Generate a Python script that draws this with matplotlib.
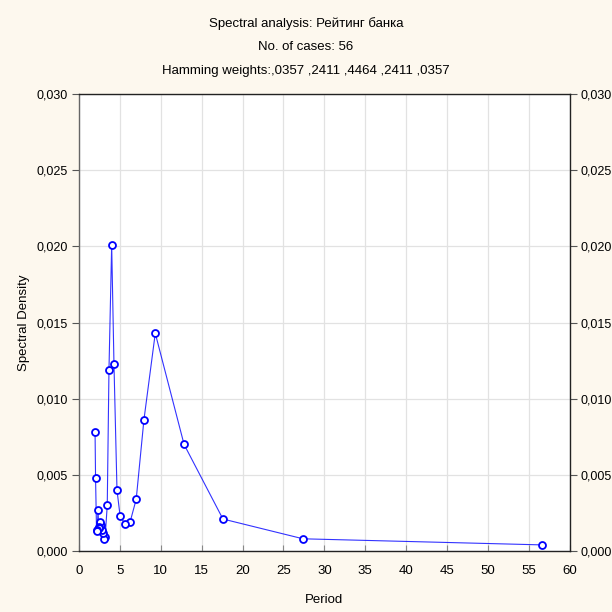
import matplotlib.pyplot as plt
from matplotlib.ticker import FuncFormatter, MultipleLocator

plt.rcParams['font.family'] = ['Liberation Sans', 'DejaVu Sans']

# Periodogram values (period, smoothed spectral density)
period = [56.6, 27.4, 17.6, 12.85, 9.33, 7.94, 7.0, 6.25, 5.6, 5.03,
          4.65, 4.28, 4.0, 3.67, 3.46, 3.2, 3.1, 2.95, 2.8, 2.7,
          2.6, 2.5, 2.42, 2.33, 2.24, 2.15, 2.03, 1.97]
density = [0.0004, 0.0008, 0.0021, 0.0070, 0.0143, 0.0086, 0.0034, 0.0019, 0.0018, 0.0023,
           0.0040, 0.0123, 0.0201, 0.0119, 0.0030, 0.0009, 0.0008, 0.0012, 0.0014, 0.0017,
           0.0019, 0.0016, 0.0015, 0.0027, 0.0014, 0.0013, 0.0048, 0.0078]

title_lines = ["Spectral analysis: Рейтинг банка",
               "No. of cases: 56",
               "Hamming weights:,0357 ,2411 ,4464 ,2411 ,0357"]

bg = "#fdf8ee"
fig = plt.figure(figsize=(6.12, 6.12), dpi=100, facecolor=bg)
ax = fig.add_axes([0.129, 0.0997, 0.802, 0.7463])
ax.set_facecolor("white")

ax.plot(period, density, color="#0000ff", linewidth=0.8, alpha=0.8, zorder=3)
ax.plot(period, density, linestyle="none", marker="o", markersize=5,
        markerfacecolor="white", markeredgecolor="#0000ff", markeredgewidth=1.3, zorder=4)

ax.set_xlim(0, 60)
ax.set_ylim(0, 0.030)
ax.xaxis.set_major_locator(MultipleLocator(5))
ax.yaxis.set_major_locator(MultipleLocator(0.005))

comma = FuncFormatter(lambda v, pos: f"{v:.3f}".replace(".", ","))
ax.yaxis.set_major_formatter(comma)
ax.xaxis.set_major_formatter(FuncFormatter(lambda v, pos: f"{v:.0f}"))

ax.grid(True, color="#e2e2e2", linewidth=0.9)
ax.set_axisbelow(True)
ax.tick_params(axis="y", left=True, right=True, labelleft=True, labelright=True,
               direction="out", length=5, color="#555555", labelsize=9, pad=3)
ax.tick_params(axis="x", direction="in", length=4, color="#888888", labelsize=9.5, pad=10)
for side in ["top", "right", "bottom", "left"]:
    ax.spines[side].set_color("#222222")
    ax.spines[side].set_linewidth(1.0)
ax.spines["left"].set_color("#666666")

ax.set_xlabel("Period", fontsize=9.5, labelpad=12)
ax.set_ylabel("Spectral Density", fontsize=9.5, labelpad=5)

for i, line in enumerate(title_lines):
    fig.text(0.5, 0.962 - i * 0.039, line, ha="center", va="center", fontsize=9.5)

fig.savefig("out.png", dpi=100, facecolor=bg)
